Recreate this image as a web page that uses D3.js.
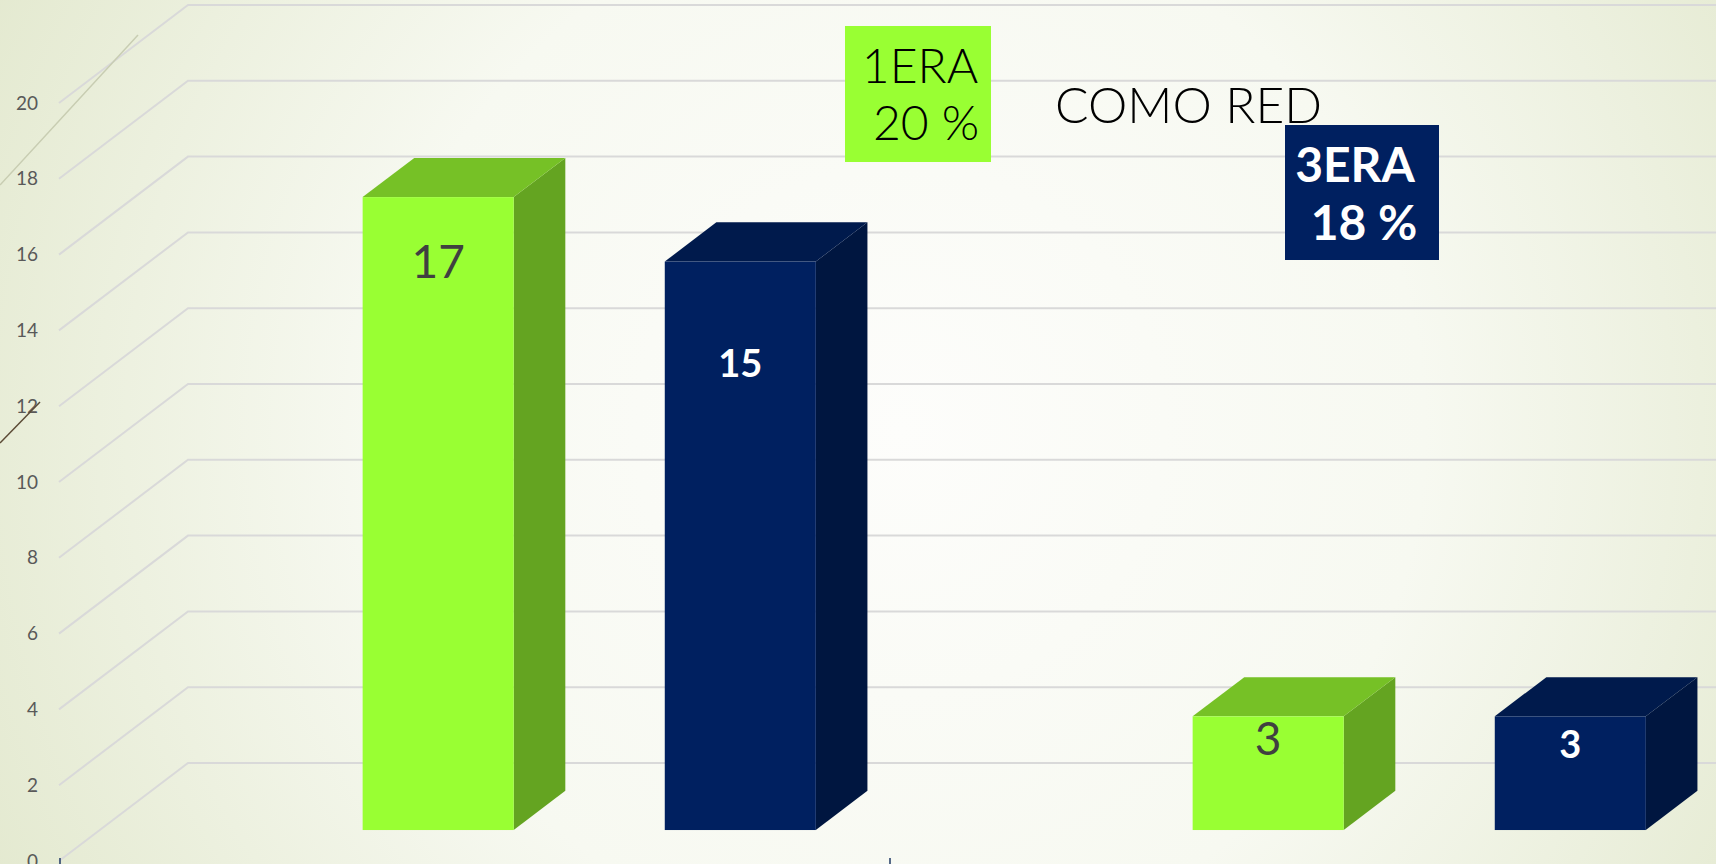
<!DOCTYPE html>
<html lang="es">
<head>
<meta charset="UTF-8">
<script src="https://cdn.jsdelivr.net/npm/d3@7"></script>
<title>COMO RED</title>
<style>
  body { margin: 0; overflow: hidden; background: #fff; }
</style>
</head>
<body>
<div id="chart"></div>
<script>
// datos del grafico
var categories = ["Grupo 1", "Grupo 2"];
var series = ["1ERA", "3ERA"];
var values1era = [16.7, 3];
var values3era = [15, 3];
var yTicks = [0, 2, 4, 6, 8, 10, 12, 14, 16, 18, 20];
var chartTitle = "COMO RED";
var noteNames = ["1ERA", "3ERA"];
var notePcts = ["20 %", "18 %"];

var W = 1716, H = 864;
var DX = 129, DY = -98;          // profundidad de la caja 3D
var f0 = 0.316, f1 = 0.716;      // profundidad de las barras
var colors = {
  "1ERA": { front: "#99FF33", top: "#76C126", side: "#64A421", label: "#404040", weight: 400, size: 46 },
  "3ERA": { front: "#002060", top: "#001A4C", side: "#001640", label: "#FFFFFF", weight: 700, size: 38 }
};
var labelDrop = { "1ERA": [81, 39], "3ERA": [115, 42] };

var valuesBySeries = { "1ERA": values1era, "3ERA": values3era };

const svg = d3.select("#chart").append("svg")
  .attr("width", W).attr("height", H)
  .attr("id", "chartsvg");

var defs = svg.append("defs");
var grad = defs.append("radialGradient").attr("id", "bg")
  .attr("gradientUnits", "userSpaceOnUse")
  .attr("cx", 900).attr("cy", 430).attr("r", 1050);
grad.append("stop").attr("offset", "0").attr("stop-color", "#FDFDFB");
grad.append("stop").attr("offset", "0.5").attr("stop-color", "#F7F9F1");
grad.append("stop").attr("offset", "1").attr("stop-color", "#E2E8CD");
svg.append("rect").attr("width", W).attr("height", H).attr("fill", "url(#bg)");

// escalas
const y = d3.scaleLinear().domain([0, 20]).range([861, 103]);
const xCat = d3.scaleBand().domain(categories).range([60, 1720]);
const xGroup = d3.scaleBand().domain(categories).range([60, 1720])
  .paddingInner(0.454).paddingOuter(0.227).align(0.695);
const xSeries = d3.scaleBand().domain(series).range([0, xGroup.bandwidth()]).paddingInner(0.5);
var x0 = 59;

// lineas de cuadricula (pared del fondo + suelo lateral)
const grid = svg.append("g");
grid.selectAll("polyline").data(yTicks).enter().append("polyline")
  .attr("points", d => [[x0, y(d)], [x0 + DX, y(d) + DY], [W + 5, y(d) + DY]].join(" "))
  .attr("fill", "none")
  .attr("stroke", "#D9D9D9")
  .attr("stroke-width", 2);

// etiquetas del eje y
svg.append("g").selectAll("text").data(yTicks).enter().append("text")
  .attr("x", 38).attr("y", d => y(d))
  .attr("dy", "0.35em")
  .attr("text-anchor", "end")
  .attr("font-family", "Lato, 'Open Sans', sans-serif")
  .attr("font-size", 19)
  .attr("fill", "#595959")
  .text(d => d);

// marcas del eje de categorias
var bounds = categories.map(c => xCat(c)).concat([xCat.range()[1]]);
svg.append("g").selectAll("line").data(bounds).enter().append("line")
  .attr("x1", d => d).attr("x2", d => d)
  .attr("y1", 858).attr("y2", H)
  .attr("stroke", "#1F3864").attr("stroke-width", 1.5);

// barras 3D
var bars = [];
categories.forEach((c, i) => {
  series.forEach(s => {
    bars.push({ cat: c, s: s, v: valuesBySeries[s][i], i: i });
  });
});

const gb = svg.append("g").selectAll("g").data(bars).enter().append("g");
function face(d) {
  var xl = xGroup(d.cat) + xSeries(d.s) + f0 * DX;
  var xr = xl + xSeries.bandwidth();
  var yt = y(d.v) + f0 * DY, yb = y(0) + f0 * DY;
  var ddx = (f1 - f0) * DX, ddy = (f1 - f0) * DY;
  return { xl, xr, yt, yb, ddx, ddy };
}
gb.append("polygon") // lado
  .attr("points", d => { var p = face(d);
    return [[p.xr, p.yt], [p.xr + p.ddx, p.yt + p.ddy], [p.xr + p.ddx, p.yb + p.ddy], [p.xr, p.yb]].join(" "); })
  .attr("fill", d => colors[d.s].side);
gb.append("polygon") // tapa
  .attr("points", d => { var p = face(d);
    return [[p.xl, p.yt], [p.xl + p.ddx, p.yt + p.ddy], [p.xr + p.ddx, p.yt + p.ddy], [p.xr, p.yt]].join(" "); })
  .attr("fill", d => colors[d.s].top);
gb.append("rect") // frente
  .attr("x", d => face(d).xl)
  .attr("y", d => face(d).yt)
  .attr("width", xSeries.bandwidth())
  .attr("height", d => face(d).yb - face(d).yt)
  .attr("fill", d => colors[d.s].front);

gb.append("text")
  .attr("x", d => face(d).xl + xSeries.bandwidth() / 2)
  .attr("y", d => face(d).yt + labelDrop[d.s][d.i])
  .attr("text-anchor", "middle")
  .attr("font-family", "Lato, 'Open Sans', sans-serif")
  .attr("font-size", d => colors[d.s].size)
  .attr("font-weight", d => colors[d.s].weight)
  .attr("fill", d => colors[d.s].label)
  .text(d => d3.format(".0f")(d.v));

// titulo y notas
svg.append("text")
  .attr("x", 1055).attr("y", 123)
  .attr("font-family", "Lato, 'Open Sans', sans-serif")
  .attr("font-weight", 300)
  .attr("font-size", 50)
  .attr("textLength", 267).attr("lengthAdjust", "spacingAndGlyphs")
  .attr("fill", "#000")
  .text(chartTitle);

var notes = [
  { x: 845, y: 26, w: 146, h: 136, fill: "#99FF33", color: "#000", weight: 300, cx: [920, 926], by: [83, 140] },
  { x: 1285, y: 125, w: 154, h: 135, fill: "#002060", color: "#fff", weight: 700, cx: [1355, 1364], by: [182, 240] }
];
notes.forEach((n, i) => {
  svg.append("rect").attr("x", n.x).attr("y", n.y).attr("width", n.w).attr("height", n.h).attr("fill", n.fill);
  [noteNames[i], notePcts[i]].forEach((t, j) => {
    svg.append("text")
      .attr("x", n.cx[j]).attr("y", n.by[j])
      .attr("text-anchor", "middle")
      .attr("font-family", "Lato, 'Open Sans', sans-serif")
      .attr("font-weight", n.weight)
      .attr("font-size", 48)
      .attr("fill", n.color)
      .text(t);
  });
});

// lineas decorativas del tema
svg.append("line").attr("x1", 138).attr("y1", 35).attr("x2", 0).attr("y2", 185)
  .attr("stroke", "#C8CDB2").attr("stroke-width", 1.5);
svg.append("line").attr("x1", 40).attr("y1", 402).attr("x2", 0).attr("y2", 443)
  .attr("stroke", "#5B4A35").attr("stroke-width", 1.5);
</script>
</body>
</html>
